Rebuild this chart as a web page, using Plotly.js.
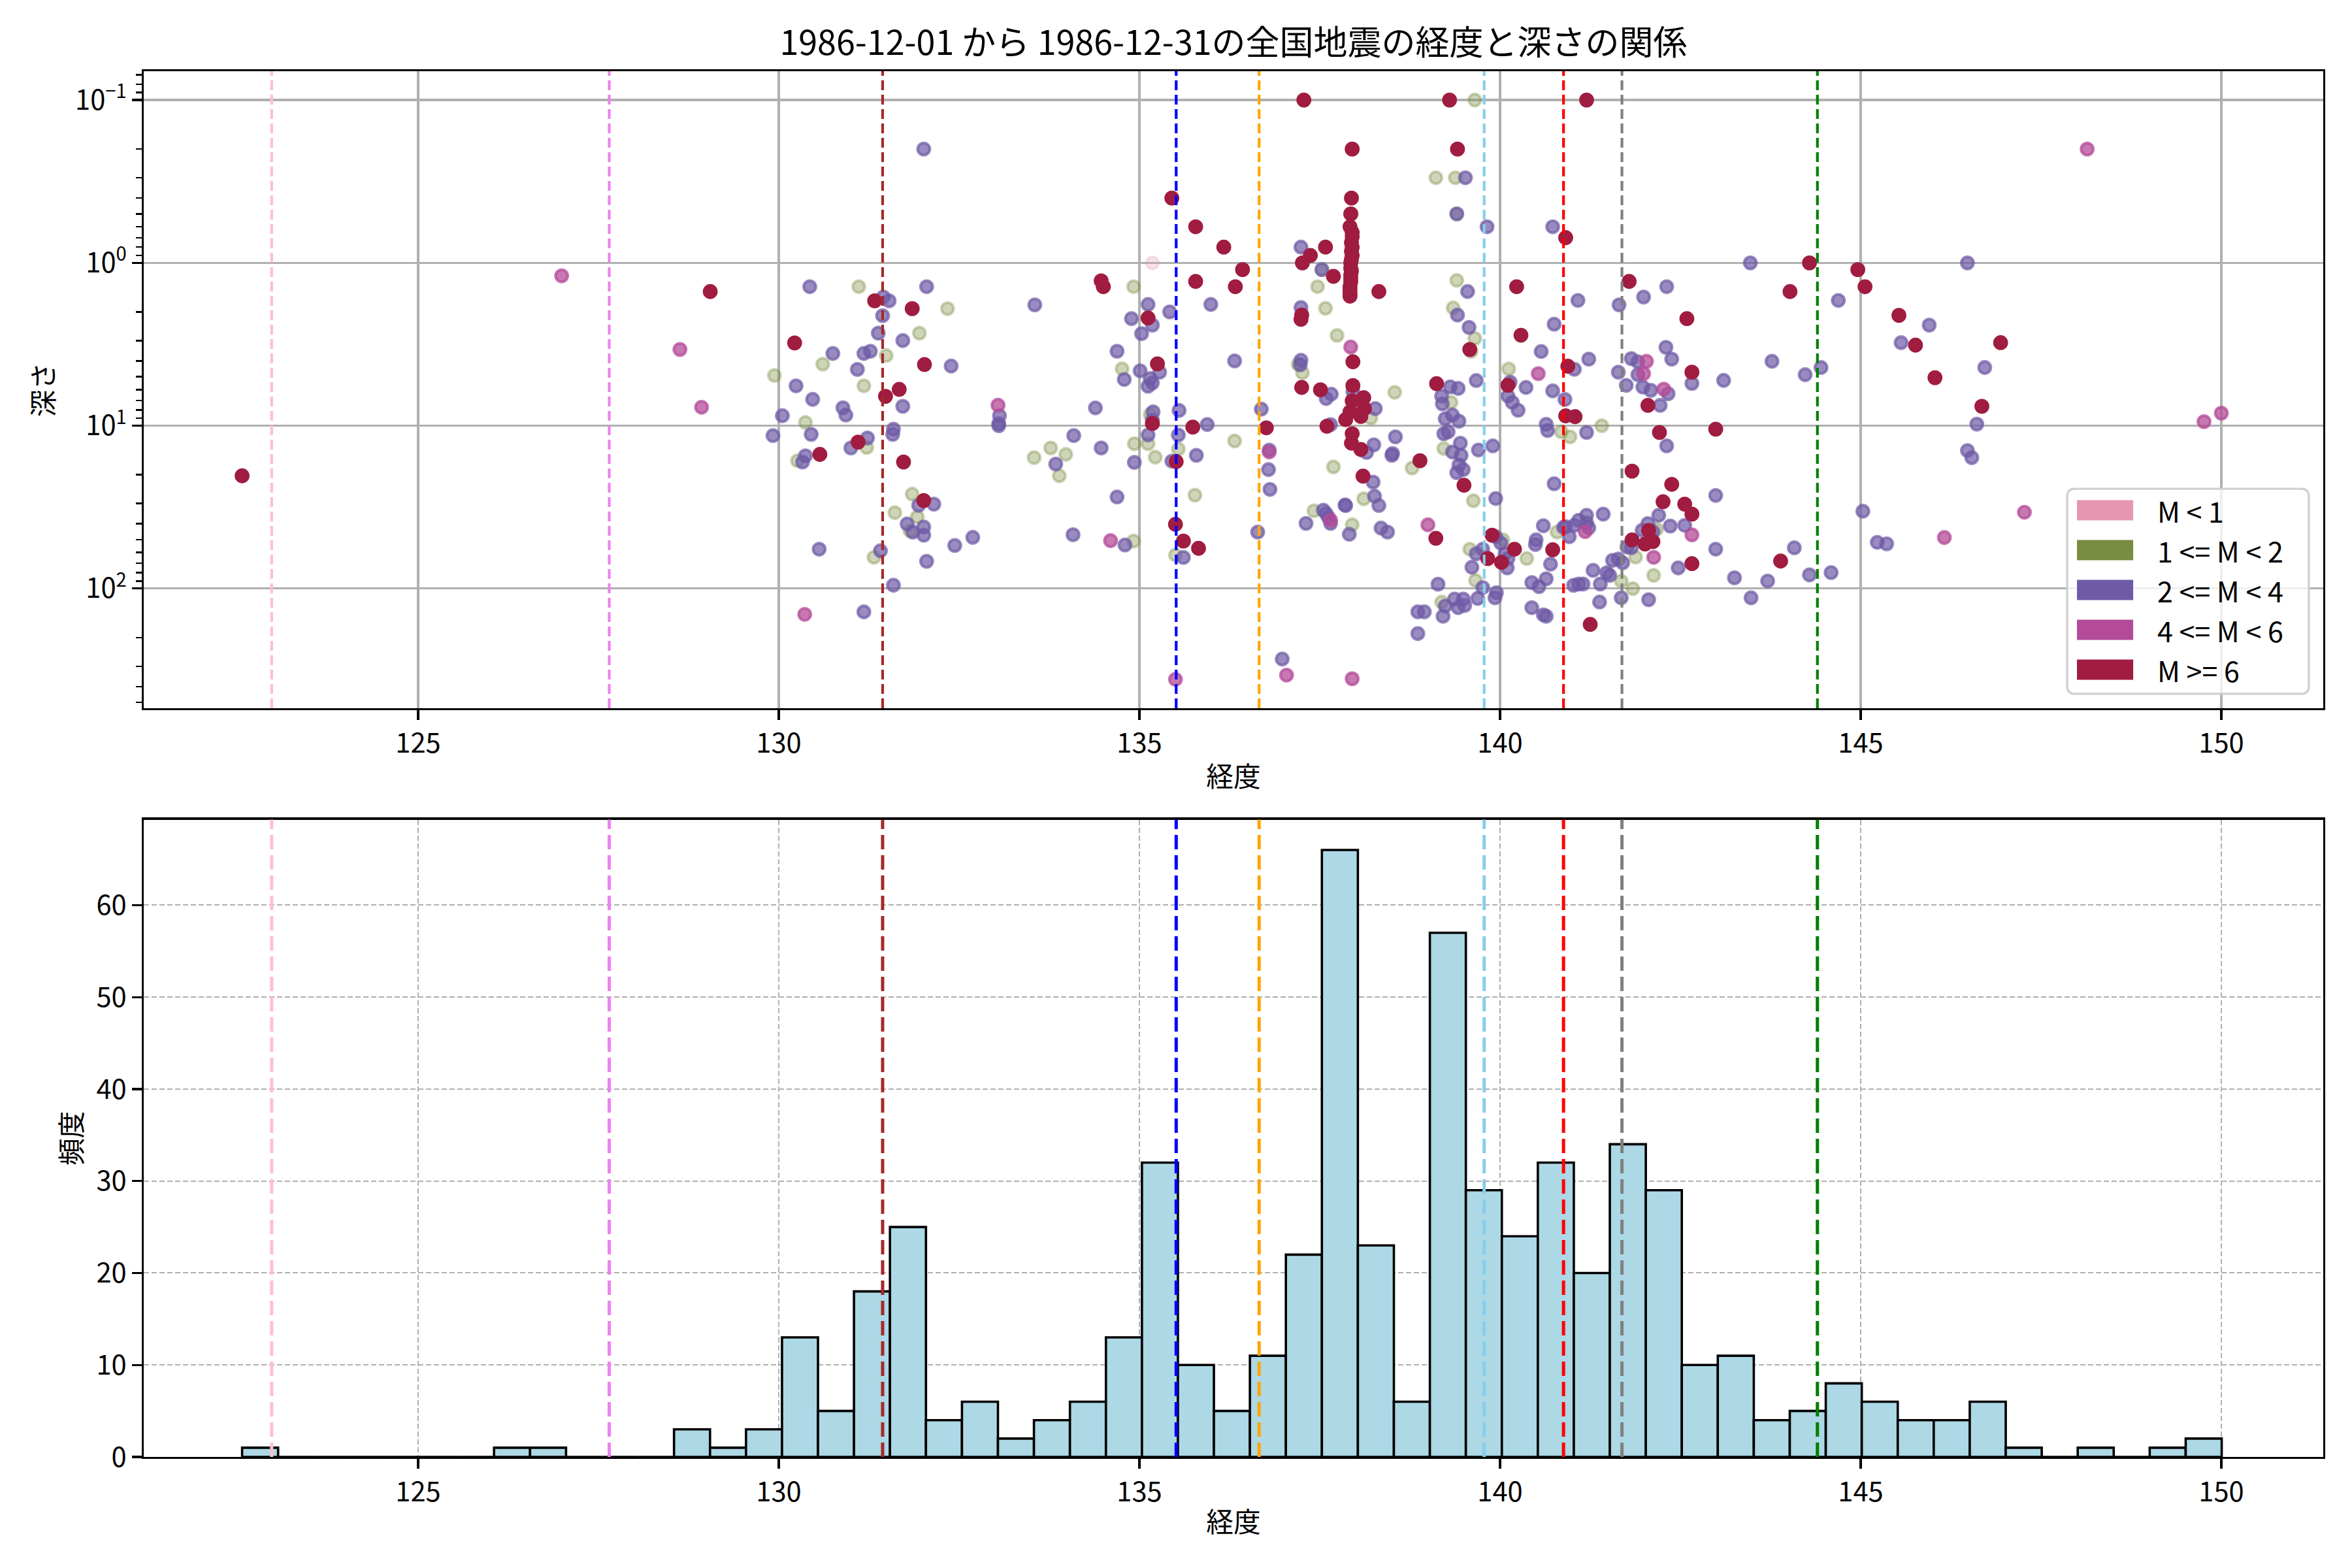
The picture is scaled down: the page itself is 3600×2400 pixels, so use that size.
<!DOCTYPE html>
<html>
<head>
<meta charset="utf-8">
<script src="https://cdn.plot.ly/plotly-3.0.1.min.js"></script>
<style>html,body{margin:0;padding:0;background:#fff;}</style>
</head>
<body>
<div id="chart" style="width:3600px;height:2400px;"></div>
<script>
// ---------------- data ----------------
const chartTitle = '1986-12-01 から 1986-12-31の全国地震の経度と深さの関係';
const categoryLabels = ['M &lt; 1', '1 &lt;= M &lt; 2', '2 &lt;= M &lt; 4', '4 &lt;= M &lt; 6', 'M &gt;= 6'];

// [longitude, depth(km)]
const ptsM0 = [[135.18,1.0]];
const ptsM1 = [
[132.34,1.91],[131.95,2.70],[131.49,3.71],[130.61,4.19],[129.94,4.91],[131.18,5.69],[130.37,9.55],[131.22,13.6],[130.26,16.4],[133.54,15.7],[133.77,13.7],[133.98,15.0],[133.89,20.3],[131.85,26.3],[131.61,34.2],[131.92,36.3],[131.82,44.3],[131.32,64.3],[131.11,1.40],
[134.92,1.40],[137.53,1.10],[137.47,1.40],[137.58,1.90],[137.74,2.79],[134.76,4.47],[137.20,4.19],[137.26,4.73],[135.15,8.53],[134.93,12.9],[135.12,12.9],[135.54,13.9],[135.22,15.6],[136.32,12.4],[135.77,26.7],[135.50,62.2],[134.92,51.1],[137.69,17.9],[137.42,33.3],
[137.94,0.50],[138.21,8.97],[138.11,28.1],[137.95,40.6],[138.54,6.24],[138.78,18.2],[139.32,7.19],[139.22,13.8],[139.63,28.9],[139.40,1.28],[139.35,1.89],[139.65,2.91],[139.60,3.50],[139.40,0.50],[140.12,4.48],[140.85,10.9],[140.79,45.0],[140.37,65.4],[140.04,50.2],[139.58,57.3],[139.66,89.1],[139.19,121],[139.65,0.10],[139.11,0.30],[139.38,0.30],
[140.97,11.7],[141.41,10.0],[142.17,43.2],[141.88,64.1],[141.68,89.9],[141.84,100],[142.13,83.0]
];
const ptsM2 = [
[131.45,1.62],[131.53,1.71],[133.55,1.81],[131.44,2.11],[131.38,2.70],[131.72,3.00],[130.75,3.60],[131.18,3.60],[131.27,3.49],[132.39,4.30],[131.09,4.51],[130.24,5.69],[130.47,6.89],[131.72,7.60],[130.89,7.76],[130.93,8.60],[130.05,8.68],[133.06,8.68],[133.05,9.71],[133.05,10.0],[129.92,11.5],[130.45,11.3],[131.59,10.5],[131.58,11.3],[131.23,11.9],[131.00,13.7],[130.37,15.3],[130.33,16.7],[133.84,17.2],[134.09,11.5],[131.94,30.8],[132.15,30.3],[131.78,40.1],[132.01,41.9],[132.01,47.0],[131.86,45.0],[132.44,54.4],[132.69,48.5],[130.56,57.3],[131.41,58.6],[132.05,68.0],[134.08,46.7],[131.59,95.4],[131.18,139],[132.01,0.20],[130.43,1.40],[132.05,1.40],
[137.24,0.80],[137.53,1.10],[135.12,1.80],[135.42,2.00],[134.89,2.20],[135.18,2.41],[135.03,2.72],[135.99,1.80],[137.24,1.88],[134.69,3.49],[134.79,5.20],[135.01,4.60],[135.28,4.69],[135.15,5.13],[135.18,5.46],[135.12,5.72],[136.32,4.00],[137.24,3.96],[137.23,4.23],[137.59,6.81],[137.66,6.40],[134.39,7.77],[135.19,8.22],[135.55,8.06],[135.18,9.24],[135.12,11.4],[134.47,13.7],[135.54,11.4],[135.94,9.83],[135.79,15.2],[135.45,16.5],[134.93,16.8],[136.69,7.91],[136.80,14.1],[136.79,18.6],[136.81,24.6],[134.69,27.4],[135.61,64.4],[134.80,54.0],[136.64,45.0],[137.85,30.7],[137.31,39.8],[137.55,33.0],[137.62,36.6],[137.65,39.8],[137.59,34.6],[136.98,271],[137.65,9.84],
[137.96,6.17],[138.04,7.35],[138.27,7.85],[138.25,13.1],[138.15,14.6],[138.55,11.7],[138.51,14.8],[138.50,15.2],[138.24,22.2],[138.26,27.1],[138.32,30.9],[137.86,30.9],[137.91,46.4],[138.35,42.5],[138.44,45.0],[139.31,5.77],[139.42,5.90],[139.19,6.58],[139.20,7.34],[139.34,8.60],[139.24,9.06],[139.43,9.38],[139.22,11.2],[139.28,10.9],[139.34,14.5],[139.45,12.8],[139.46,15.2],[139.43,17.4],[139.40,19.4],[139.49,18.6],[139.70,14.1],[139.90,13.3],[139.94,28.0],[139.55,1.50],[139.41,2.09],[139.57,2.49],[139.67,5.28],[139.40,0.50],[139.82,0.60],[140.73,0.60],[140.75,2.38],[140.57,3.50],[140.14,5.40],[140.11,6.58],[140.17,7.19],[140.25,8.03],[140.36,5.82],[140.73,6.11],[140.64,9.8],[140.66,10.7],[140.75,22.7],[140.60,41.1],[140.88,42.1],[140.50,50.2],[140.49,53.6],[140.70,70.8],[140.44,91.8],[140.54,97.3],[140.64,87.1],[140.44,131],[140.60,145],[140.64,148],[140.11,65.4],[140.10,74.6],[139.94,48.1],[140.01,52.5],[140.07,61.2],[139.76,57.3],[139.67,61.2],[139.61,74],[139.76,98.6],[139.95,106],[139.93,114],[139.69,115],[139.49,116],[139.37,116],[139.51,127],[139.42,131],[139.24,128],[139.21,148],[138.86,139],[138.95,139],[138.86,189],[139.14,94],[139.52,0.30],
[141.08,1.70],[141.65,1.81],[141.99,1.62],[143.77,4.02],[141.03,4.50],[141.23,3.90],[141.64,4.69],[141.75,5.65],[141.82,3.87],[141.91,4.05],[142.30,3.30],[142.38,3.90],[141.91,4.86],[141.98,5.79],[142.09,6.06],[142.33,6.36],[142.22,7.50],[142.66,5.50],[143.10,5.27],[140.90,6.9],[141.20,11.0],[142.31,13.3],[142.99,26.8],[142.20,35.5],[142.36,41.3],[142.56,40.9],[142.05,39.9],[141.97,43.9],[142.12,44.7],[141.82,56.2],[141.76,55.6],[141.64,65.9],[141.70,69.5],[141.56,67.1],[141.68,114],[142.47,74.7],[142.99,57.3],[142.06,117],[141.48,80.0],[141.52,83.0],[141.29,77.3],[141.39,93.8],[141.38,121],[141.15,93.8],[141.09,93.8],[141.02,95.5],[141.20,35.5],[141.43,34.9],[140.96,48],[141.09,38.1],[141.20,39.5],[141.23,42.4],[140.91,41.7],[141.03,40.9],[143.25,85.9],[143.71,89.9],[143.48,114],[144.08,56.2],[142.31,1.40],[143.47,1.0],
[144.69,1.70],[145.95,2.41],[145.56,3.09],[144.23,4.86],[144.45,4.39],[146.72,4.39],[146.61,9.77],[146.48,14.2],[146.54,15.7],[146.48,1.0],[145.03,33.5],[145.23,52.0],[145.36,53.1],[144.29,82.4],[144.59,79.8]
];
const ptsM4 = [
[126.99,1.2],[128.63,3.4],[128.93,7.7],[133.04,7.48],[130.36,144],
[134.60,50.8],[136.80,14.5],[137.65,38.0],[137.04,340],[135.50,361],
[137.93,3.29],[137.95,358],[139.00,40.6],[140.53,4.79],
[142.03,4.02],[141.99,4.79],[142.27,5.96],[142.66,46.8],[142.13,64.3],[141.18,44.7],
[148.14,0.20],[149.76,9.44],[150.00,8.37],[147.27,34.0],[146.16,48.6]
];
const ptsM6 = [
[122.56,20.3],[129.05,1.5],
[131.33,1.71],[131.85,1.91],[130.22,3.10],[132.02,4.21],[131.67,5.98],[131.48,6.60],[131.10,12.6],[130.57,15.0],[131.73,16.7],[132.01,28.8],
[135.45,0.40],[135.78,0.60],[136.17,0.80],[136.43,1.10],[135.78,1.30],[136.33,1.40],[134.47,1.29],[134.50,1.40],[137.37,0.90],[137.26,1.0],[137.58,0.80],[137.69,1.21],[135.12,2.18],[137.25,2.09],[137.24,2.22],[135.25,4.17],[137.25,5.82],[137.51,6.02],[135.18,9.69],[135.74,10.2],[135.51,16.6],[136.76,10.3],[135.50,40.3],[135.61,51.1],[135.82,56.6],[137.60,10.07],[137.28,0.10],
[137.95,0.20],[137.94,0.40],[137.93,0.50],[137.92,0.60],[137.95,0.65],[137.95,0.69],[137.94,0.75],[137.95,0.80],[137.94,0.85],[137.95,0.90],[137.94,0.95],[137.93,1.0],[137.93,1.08],[137.94,1.12],[137.93,1.19],[137.93,1.25],[137.93,1.31],[137.92,1.40],[137.92,1.47],[137.92,1.55],[137.92,1.60],
[137.96,4.05],[137.96,5.67],[138.11,6.73],[137.95,7.03],[138.12,7.85],[137.92,8.21],[137.86,9.17],[138.07,8.77],[137.95,11.2],[137.94,12.8],[138.07,14.0],[138.10,20.4],[138.32,1.50],[138.89,16.4],[139.12,5.52],[139.50,23.2],[139.58,3.40],[140.91,0.70],[140.23,1.40],[140.29,2.78],[140.11,5.64],[140.73,57.8],[140.20,57.3],[140.02,69.0],[139.89,47.0],[139.83,65.4],[139.11,49.1],[139.30,0.10],[139.41,0.20],
[142.59,2.20],[144.02,1.50],[140.94,4.31],[142.05,7.50],[142.66,4.69],[140.91,8.7],[141.04,8.8],[142.21,11.0],[142.99,10.5],[141.83,19.0],[142.38,22.9],[142.26,29.3],[142.56,30.3],[142.66,34.9],[142.06,44.0],[142.12,51.5],[141.83,50.3],[142.01,53.3],[142.66,70.3],[141.25,166],[143.89,67.8],[141.20,0.10],[141.79,1.30],
[144.29,1.0],[144.96,1.10],[145.06,1.40],[145.53,2.10],[145.76,3.20],[146.94,3.09],[146.03,5.07],[146.68,7.60]
];

// histogram (55 longitude bins spanning the data range)
const binStart = 122.56;
const binWidth = 0.499;
const binCounts = [1,0,0,0,0,0,0,1,1,0,0,0,3,1,3,13,5,18,25,4,6,2,4,6,13,32,10,5,11,22,66,23,6,57,29,24,32,20,34,29,10,11,4,5,8,6,4,4,6,1,0,1,0,1,2];

// reference longitudes (dashed lines)
const refLon = [122.97, 127.65, 131.44, 135.51, 136.66, 139.78, 140.88, 141.69, 144.40];
const refColors = ['#ffc0cb','#ee82ee','#a52a2a','#0000ff','#ffa500','#87ceeb','#ff0000','#808080','#008000'];

// ---------------- styles ----------------
const catColors = [[229,151,178],[122,140,66],[110,90,165],[180,75,152],[160,28,64]];
const catAlpha = [0.25, 0.37, 0.7, 0.75, 1.0];
const FONT = '"Noto Sans CJK JP", "Noto Sans", sans-serif';
const TICK = 41.7;
const XRANGE = [121.196, 151.413];

function rgba(c, a){ return 'rgba(' + c[0] + ',' + c[1] + ',' + c[2] + ',' + a + ')'; }

const allPts = [ptsM0, ptsM1, ptsM2, ptsM4, ptsM6];
const traces = allPts.map((pts, i) => ({
  type: 'scatter', mode: 'markers', xaxis: 'x', yaxis: 'y',
  x: pts.map(p => p[0]), y: pts.map(p => p[1]),
  name: categoryLabels[i], showlegend: false, hoverinfo: 'skip',
  marker: { size: 18.6, color: rgba(catColors[i], catAlpha[i]),
            line: { width: 4.2, color: rgba(catColors[i], catAlpha[i]) } }
}));

traces.push({
  type: 'bar', xaxis: 'x2', yaxis: 'y2',
  x: binCounts.map((c, i) => binStart + binWidth * (i + 0.5)),
  y: binCounts, width: binWidth, showlegend: false, hoverinfo: 'skip',
  marker: { color: '#add8e6', line: { color: '#000000', width: 3.6 } }
});

const shapes = [];
refLon.forEach((lon, i) => {
  shapes.push({ type: 'line', xref: 'x', yref: 'y domain', x0: lon, x1: lon, y0: 0, y1: 1,
    line: { color: refColors[i], width: 4.2, dash: '15px,7px' } });
  shapes.push({ type: 'line', xref: 'x2', yref: 'y2 domain', x0: lon, x1: lon, y0: 0, y1: 1,
    line: { color: refColors[i], width: 5, dash: '22px,9px' } });
});

// legend box (paper coords)
const lx0 = 0.8825, lx1 = 0.9934, ly0 = 0.5507, ly1 = 0.6987, rx = 0.0036, ry = 0.0057;
shapes.push({ type: 'path', xref: 'paper', yref: 'paper',
  path: `M ${lx0+rx},${ly0} L ${lx1-rx},${ly0} Q ${lx1},${ly0} ${lx1},${ly0+ry} L ${lx1},${ly1-ry} Q ${lx1},${ly1} ${lx1-rx},${ly1} L ${lx0+rx},${ly1} Q ${lx0},${ly1} ${lx0},${ly1-ry} L ${lx0},${ly0+ry} Q ${lx0},${ly0} ${lx0+rx},${ly0} Z`,
  fillcolor: 'rgba(255,255,255,0.8)', line: { color: '#d0d0d0', width: 3.3 } });
const rowY = [0.6832, 0.6544, 0.6256, 0.5969, 0.5681];
const annotations = [];
rowY.forEach((yy, i) => {
  shapes.push({ type: 'rect', xref: 'paper', yref: 'paper', x0: 0.8870, x1: 0.9128, y0: yy - 0.0073, y1: yy + 0.0073,
    fillcolor: rgba(catColors[i], 1), line: { width: 0 } });
  annotations.push({ xref: 'paper', yref: 'paper', x: 0.9233, y: yy, xanchor: 'left', yanchor: 'middle',
    text: categoryLabels[i], showarrow: false, font: { family: FONT, size: 43, color: '#000' } });
});

const minorVals = [0.07,0.08,0.09,0.2,0.3,0.4,0.5,0.6,0.7,0.8,0.9,2,3,4,5,6,7,8,9,20,30,40,50,60,70,80,90,200,300,400,500];

const axisCommon = {
  showline: true, linecolor: '#000', linewidth: 3.3, mirror: true, zeroline: false,
  ticks: 'outside', ticklen: 14.6, tickwidth: 3.3, tickcolor: '#000',
  tickfont: { family: FONT, size: TICK, color: '#000' }
};

const layout = {
  width: 3600, height: 2400,
  margin: { l: 220, r: 44, t: 109, b: 170 },
  paper_bgcolor: '#fff', plot_bgcolor: '#fff',
  font: { family: FONT, color: '#000' },
  showlegend: false,
  title: { text: chartTitle, font: { family: FONT, size: 52, color: '#000' },
           xref: 'paper', x: 0.5, xanchor: 'center', yref: 'container', y: 0.9725, yanchor: 'middle' },
  xaxis: Object.assign({}, axisCommon, {
    domain: [0, 1], anchor: 'y', range: XRANGE,
    tickvals: [125,130,135,140,145,150],
    showgrid: true, gridcolor: '#b0b0b0', gridwidth: 3.3,
    title: { text: '経度', font: { family: FONT, size: TICK }, standoff: 12 }
  }),
  yaxis: Object.assign({}, axisCommon, {
    domain: [0.5403, 1], anchor: 'x', type: 'log', range: [2.735, -1.177],
    tickvals: [0.1, 1, 10, 100],
    ticktext: ['10<sup>−1</sup>', '10<sup>0</sup>', '10<sup>1</sup>', '10<sup>2</sup>'],
    showgrid: true, gridcolor: '#b0b0b0', gridwidth: 3.3,
    minor: { tickmode: 'array', tickvals: minorVals, ticks: 'outside', ticklen: 8.3, tickwidth: 2.5, tickcolor: '#000', showgrid: false },
    title: { text: '深さ', font: { family: FONT, size: TICK }, standoff: 20 }
  }),
  xaxis2: Object.assign({}, axisCommon, {
    domain: [0, 1], anchor: 'y2', range: XRANGE,
    tickvals: [125,130,135,140,145,150],
    showgrid: true, gridcolor: '#b0b0b0', gridwidth: 2, griddash: '8px,4px',
    title: { text: '経度', font: { family: FONT, size: TICK }, standoff: 8 }
  }),
  yaxis2: Object.assign({}, axisCommon, {
    domain: [0, 0.4599], anchor: 'x2', range: [0, 69.3],
    tickvals: [0,10,20,30,40,50,60],
    showgrid: true, gridcolor: '#b0b0b0', gridwidth: 2, griddash: '8px,4px',
    title: { text: '頻度', font: { family: FONT, size: TICK }, standoff: 10 }
  }),
  shapes: shapes,
  annotations: annotations,
  bargap: 0
};

Plotly.newPlot('chart', traces, layout, { staticPlot: true, displayModeBar: false });
</script>
</body>
</html>
